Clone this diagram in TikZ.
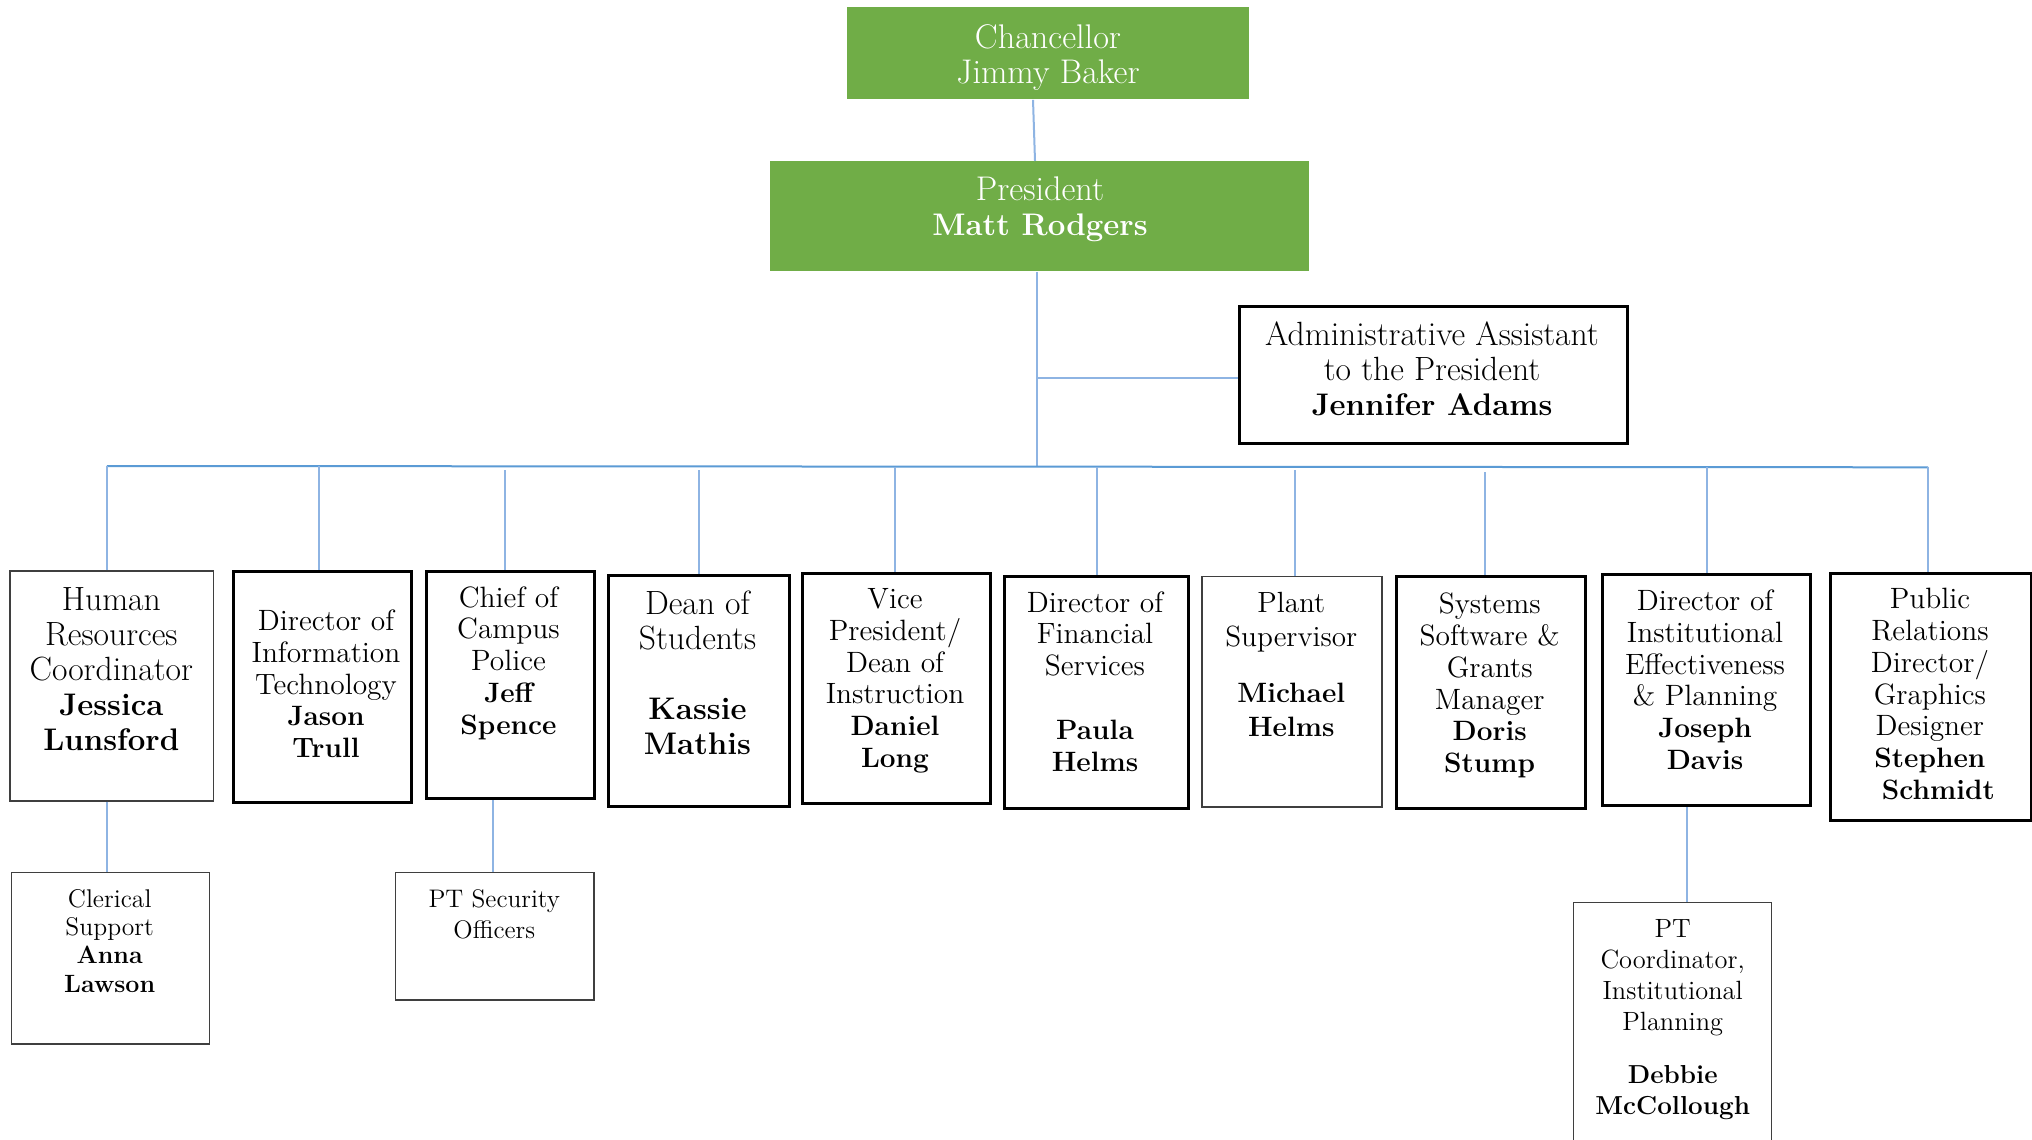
\documentclass[tikz,border=0pt]{standalone}
\usetikzlibrary{calc}
\definecolor{grn}{HTML}{70AD47}
\definecolor{busblue}{HTML}{5B9BD5}
\definecolor{lnblue}{HTML}{8EB4E3}
\definecolor{thingray}{HTML}{3F3F3F}
\def\sth{10pt}\def\bsz{14}\def\bsk{16}
\newcommand{\myst}{\rule{0pt}{\sth}}
\newcommand{\nm}[1]{{\fontsize{\bsz}{\bsk}\selectfont\bfseries #1}}
\begin{document}
\begin{tikzpicture}[x=0.5pt,y=-0.5pt,
  box/.style={draw=black, line width=1.5pt, fill=white, rectangle, inner sep=0pt, anchor=north west},
  thinbox/.style={draw=thingray, line width=0.8pt, fill=white, rectangle, inner sep=0pt, anchor=north west},
  greenbox/.style={fill=grn, draw=none, rectangle, inner sep=0pt, anchor=north west},
  lg/.style={font=\fontsize{16.8}{17.5}\selectfont\def\bsz{15.6}\def\bsk{17.5}\def\sth{11.7pt}, align=center, inner sep=0pt, anchor=north},
  tp/.style={font=\fontsize{17.1}{17.5}\selectfont\def\bsz{15.6}\def\bsk{17.5}\def\sth{11.7pt}, align=center, inner sep=0pt, anchor=north, text=white},
  md/.style={font=\fontsize{14.7}{15.9}\selectfont\def\bsz{14}\def\bsk{15.9}\def\sth{10.5pt}, align=center, inner sep=0pt, anchor=north},
  pl/.style={font=\fontsize{14.6}{17}\selectfont\def\bsz{14}\def\bsk{17}\def\sth{10.5pt}, align=center, inner sep=0pt, anchor=north},
  smA/.style={font=\fontsize{12.8}{14.2}\selectfont\def\bsz{12.5}\def\bsk{14.2}\def\sth{9.375pt}, align=center, inner sep=0pt, anchor=north},
  smB/.style={font=\fontsize{12.7}{15.5}\selectfont\def\bsz{12.5}\def\bsk{15.5}\def\sth{9.375pt}, align=center, inner sep=0pt, anchor=north},
  smC/.style={font=\fontsize{13.2}{15.5}\selectfont\def\bsz{13}\def\bsk{15.5}\def\sth{9.75pt}, align=center, inner sep=0pt, anchor=north},
  conn/.style={draw=lnblue, line width=1pt},
  bus/.style={draw=busblue, line width=1pt}]
\clip (0,0) rectangle (2032,1139);
\fill[white] (0,0) rectangle (2032,1139);

% ---------- boxes ----------
\node[greenbox, minimum width=201pt, minimum height=46pt] (chan) at (847,7) {};
\node[greenbox, minimum width=269.5pt, minimum height=55pt] (pres) at (770,161) {};

% ---------- connectors ----------
\draw[conn] ($(chan.south west)+(186,0)$) -- ($(pres.north west)+(265,0)$);
\coordinate (bj) at (1037,466.5);
\draw[conn] ($(pres.south west)+(267,0)$) -- (bj);
\coordinate (aj) at (1037,377.7);
\coordinate (busL) at (106.8,466);
\coordinate (busR) at (1928.2,467.3);
\draw[bus] (busL) -- (busR);

\node[box, minimum width=194pt, minimum height=68.5pt] (admin) at (1238,305) {};
\draw[conn] (aj) -- (aj -| admin.west);

\node[thinbox, minimum width=101.75pt, minimum height=115pt] (hr) at (9,570) {};
\node[box, minimum width=89pt, minimum height=115.25pt] (it) at (232,570) {};
\node[box, minimum width=84.25pt, minimum height=113.75pt] (chief) at (424.5,569.5) {};
\node[box, minimum width=90.5pt, minimum height=115.75pt] (dean) at (606.5,573.5) {};
\node[box, minimum width=94pt, minimum height=115.4pt] (vp) at (801,571.5) {};
\node[box, minimum width=92.25pt, minimum height=115.75pt] (fin) at (1002.5,575) {};
\node[thinbox, minimum width=90pt, minimum height=115.15pt] (plant) at (1201,575.7) {};
\node[box, minimum width=94.75pt, minimum height=115.75pt] (sys) at (1394.5,575) {};
\node[box, minimum width=104.15pt, minimum height=115.5pt] (inst) at (1600.7,573.3) {};
\node[box, minimum width=100.75pt, minimum height=123.8pt] (pr) at (1828.5,571.7) {};

\node[thinbox, minimum width=99.05pt, minimum height=85.65pt] (cler) at (10.7,871.7) {};
\node[thinbox, minimum width=99.2pt, minimum height=63.8pt] (sec) at (394.6,871.7) {};
\node[thinbox, minimum width=99pt, minimum height=140pt] (ptc) at (1572.7,901.7) {};

\foreach \n/\x/\y in {hr/106.8/466, it/318.7/466.2, chief/505/470, dean/699/470,
                      vp/895/466.5, fin/1096.7/466.7, plant/1295/470, sys/1485/472,
                      inst/1706.7/467.1, pr/1928.2/467.3}
  {\coordinate (c\n) at (\x,\y);
   \draw[conn] (c\n) -- (c\n |- \n.north);}

\coordinate (d1) at (106.8,800);
\draw[conn] (d1 |- hr.south) -- (d1 |- cler.north);
\coordinate (d2) at (492.7,797);
\draw[conn] (d2 |- chief.south) -- (d2 |- sec.north);
\coordinate (d3) at (1686.7,804);
\draw[conn] (d3 |- inst.south) -- (d3 |- ptc.north);

% ---------- texts ----------
\node[tp] (chanT) at (1048,24.3) {\myst Chancellor\\Jimmy Baker};
\node[tp] (presT) at (1040,176.6) {\myst President\\\nm{Matt Rodgers}};
\node[lg] (adminT) at (1432,321.8) {\myst Administrative Assistant\\to the President\\\nm{Jennifer Adams}};

\node[lg] (hrT) at (111.3,586.6) {\myst Human\\Resources\\Coordinator\\\nm{Jessica}\\\nm{Lunsford}};
\node[md] (itT) at (326,609) {\myst Director of\\Information\\Technology\\\nm{Jason}\\\nm{Trull}};
\node[md] (chiefT) at (508.5,585.7) {\myst Chief of\\Campus\\Police\\\nm{Jeff}\\\nm{Spence}};
\node[lg] (deanT) at (697.5,590.6) {\myst Dean of\\Students\\[17.5pt]\nm{Kassie}\\\nm{Mathis}};
\node[md] (vpT) at (895,587) {\myst Vice\\President/\\Dean of\\Instruction\\\nm{Daniel}\\\nm{Long}};
\node[md] (finT) at (1095,590.7) {\myst Director of\\Financial\\Services\\[15.9pt]\nm{Paula}\\\nm{Helms}};
\node[pl] (plantT) at (1291.3,590.7) {\myst Plant\\Supervisor\\[11pt]\nm{Michael}\\\nm{Helms}};
\node[md] (sysT) at (1489.7,592.3) {\myst Systems\\Software \&\\Grants\\Manager\\\nm{Doris}\\\nm{Stump}};
\node[md] (instT) at (1705,589) {\myst Director of\\Institutional\\Effectiveness\\\& Planning\\\nm{Joseph}\\\nm{Davis}};
\node[md] (prT) at (1929.9,587.3) {\myst Public\\Relations\\Director/\\Graphics\\Designer\\\nm{Stephen}\\\hspace*{8.5pt}\nm{Schmidt}};

\node[smA] (clerT) at (109.7,888) {\myst Clerical\\Support\\\nm{Anna}\\\nm{Lawson}};
\node[smB] (secT) at (494.3,888) {\myst PT Security\\Officers};
\node[smC] (ptcT) at (1672.7,917.2) {\myst PT\\Coordinator,\\Institutional\\Planning\\[11pt]\nm{Debbie}\\\nm{McCollough}};
\end{tikzpicture}
\end{document}
